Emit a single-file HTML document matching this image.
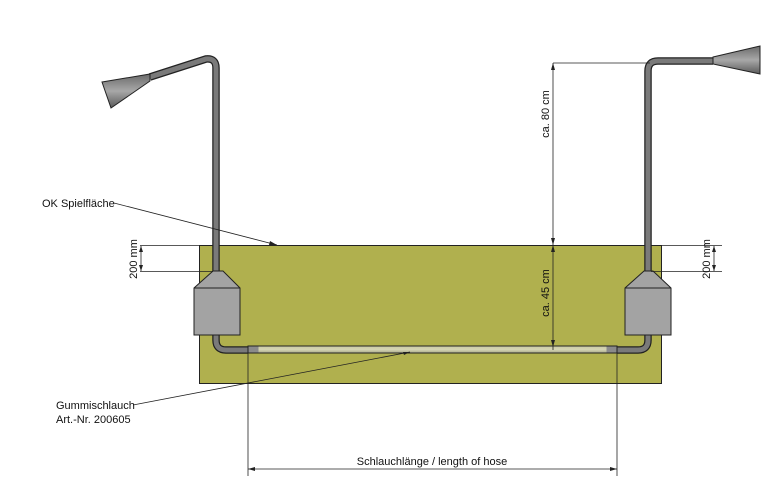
<!DOCTYPE html>
<html><head><meta charset="utf-8"><style>
html,body{margin:0;padding:0;background:#fff;width:776px;height:499px;overflow:hidden}
svg{display:block}
text{font-family:"Liberation Sans",sans-serif;font-size:11px;fill:#111}
</style></head><body>
<svg width="776" height="499" viewBox="0 0 776 499" xmlns="http://www.w3.org/2000/svg">
<defs>
<linearGradient id="hose" x1="0" y1="0" x2="0" y2="1"><stop offset="0" stop-color="#c9c9a0"/><stop offset="0.5" stop-color="#d6d6b6"/><stop offset="1" stop-color="#a8a888"/></linearGradient>
<linearGradient id="horn" x1="0" y1="0" x2="0" y2="1"><stop offset="0" stop-color="#6a6a6a"/><stop offset="0.5" stop-color="#a8a8a8"/><stop offset="1" stop-color="#5a5a5a"/></linearGradient>
</defs>
<rect x="199.5" y="245.5" width="462" height="138" fill="#b0b04e" stroke="#222" stroke-width="1"/>
<g fill="none" stroke-linecap="butt">
<path d="M216 271 L216 68 Q216 58 206 59 L150 77" stroke="#222" stroke-width="7.5"/>
<path d="M216 271 L216 68 Q216 58 206 59 L150 77" stroke="#7a7a7a" stroke-width="5"/>
<path d="M648 271 L648 71 Q648 61 658 61 L713 61" stroke="#222" stroke-width="7.5"/>
<path d="M648 271 L648 71 Q648 61 658 61 L713 61" stroke="#7a7a7a" stroke-width="5"/>
<path d="M216 334 L216 340 Q216 350 226 350 L248 350" stroke="#222" stroke-width="7.5"/>
<path d="M216 334 L216 340 Q216 350 226 350 L248 350" stroke="#7a7a7a" stroke-width="5"/>
<path d="M648 334 L648 340 Q648 350 638 350 L617 350" stroke="#222" stroke-width="7.5"/>
<path d="M648 334 L648 340 Q648 350 638 350 L617 350" stroke="#7a7a7a" stroke-width="5"/>
</g>
<rect x="248" y="346" width="369" height="7" fill="url(#hose)" stroke="#222" stroke-width="1"/>
<rect x="248.5" y="346.5" width="10" height="6" fill="#8a8a8a"/>
<rect x="606.5" y="346.5" width="10" height="6" fill="#8a8a8a"/>
<polygon points="102,82 150,74 150,81 111,108" fill="url(#horn)" stroke="#222" stroke-width="1"/>
<polygon points="713,57 760,46 760,74 713,64" fill="url(#horn)" stroke="#222" stroke-width="1"/>
<polygon points="213,271 223,271 240,288 240,335 194,335 194,288" fill="#a3a3a3" stroke="#222" stroke-width="1"/>
<line x1="194" y1="288" x2="240" y2="288" stroke="#222"/>
<polygon points="644,271 653,271 671,288 671,335 625,335 625,288" fill="#a3a3a3" stroke="#222" stroke-width="1"/>
<line x1="625" y1="288" x2="671" y2="288" stroke="#222"/>
<g stroke="#222" stroke-width="0.8" fill="none">
<line x1="553" y1="63" x2="650" y2="63"/>
<line x1="553" y1="63" x2="553" y2="350"/>
<line x1="140" y1="245.5" x2="213" y2="245.5"/>
<line x1="140" y1="271.5" x2="213" y2="271.5"/>
<line x1="141" y1="246" x2="141" y2="271"/>
<line x1="651" y1="245.5" x2="722" y2="245.5"/>
<line x1="651" y1="271.5" x2="722" y2="271.5"/>
<line x1="714" y1="246" x2="714" y2="271"/>
<line x1="248" y1="353" x2="248" y2="476"/>
<line x1="617" y1="353" x2="617" y2="476"/>
<line x1="248" y1="469" x2="617" y2="469"/>
<polyline points="114,203 277,245"/>
<polyline points="133,405 410,352"/>
</g>
<g fill="#222">
<polygon points="553,63 551,70 555,70"/><polygon points="553,245 551,238 555,238"/>
<polygon points="553,245 551,252 555,252"/><polygon points="553,347 551,340 555,340"/>
<polygon points="141,246 139,252 143,252"/><polygon points="141,271 139,265 143,265"/>
<polygon points="714,246 712,252 716,252"/><polygon points="714,271 712,265 716,265"/>
<polygon points="248,469 255,467 255,471"/><polygon points="617,469 610,467 610,471"/>
<polygon points="277,245 270,241 269,245"/><polygon points="410,352 403,352 404,355"/>
</g>
<text x="42" y="207">OK Spielfläche</text>
<text x="56" y="409">Gummischlauch</text>
<text x="56" y="423">Art.-Nr. 200605</text>
<text x="432" y="465" text-anchor="middle">Schlauchlänge / length of hose</text>
<text transform="translate(549,114) rotate(-90)" text-anchor="middle">ca. 80 cm</text>
<text transform="translate(549,293) rotate(-90)" text-anchor="middle">ca. 45 cm</text>
<text transform="translate(137,259) rotate(-90)" text-anchor="middle">200 mm</text>
<text transform="translate(710,259) rotate(-90)" text-anchor="middle">200 mm</text>
</svg>
</body></html>
